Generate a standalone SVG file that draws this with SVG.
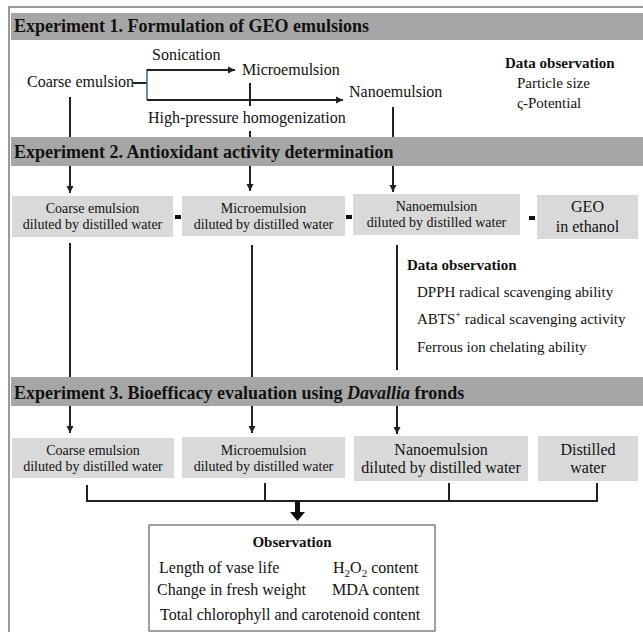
<svg xmlns="http://www.w3.org/2000/svg" width="643" height="632" viewBox="0 0 643 632" font-family="'Liberation Serif', 'Times New Roman', serif">
<defs>
<marker id="ah" markerWidth="8" markerHeight="8" refX="7" refY="4" orient="auto" markerUnits="userSpaceOnUse"><path d="M0,0.5 L7,4 L0,7.5 Z" fill="#222"/></marker>
<style>
text{fill:#111}
.hd{font-size:18px;font-weight:bold}
.bar{fill:#a6a6a6}
.box{fill:#d9d9d9}
.t16{font-size:16px}
.t15{font-size:15px}
.t14{font-size:14px}
.b15{font-size:15px;font-weight:bold}
.ln{stroke:#222;stroke-width:2;fill:none}
.arr{stroke:#222;stroke-width:2;fill:none;marker-end:url(#ah)}
.c{text-anchor:middle}
</style>
</defs>
<rect width="643" height="632" fill="#fff"/>
<path d="M9,632 V7 H643" fill="none" stroke="#999" stroke-width="2"/>

<g id="header1"><rect class="bar" x="11" y="13" width="632" height="27"/><text class="hd" x="14" y="32">Experiment 1. Formulation of GEO emulsions</text></g>
<g id="header2"><rect class="bar" x="11" y="137" width="632" height="29"/><text class="hd" x="14" y="158">Experiment 2. Antioxidant activity determination</text></g>
<g id="header3"><rect class="bar" x="11" y="377" width="632" height="29"/><text class="hd" x="14" y="399">Experiment 3. Bioefficacy evaluation using <tspan font-style="italic">Davallia</tspan> fronds</text></g>

<g id="exp1-coarse"><text class="t16" x="27" y="87">Coarse emulsion</text></g>
<g id="exp1-sonication"><text class="t16" x="152" y="60">Sonication</text></g>
<g id="exp1-micro"><text class="t16" x="242" y="75">Microemulsion</text></g>
<g id="exp1-nano"><text class="t16" x="349" y="97">Nanoemulsion</text></g>
<g id="exp1-hph"><text class="t16" x="148" y="123">High-pressure homogenization</text></g>
<g id="exp1-data"><text class="b15" x="505" y="68">Data observation</text><text class="t15" x="517" y="88">Particle size</text><text class="t15" x="517" y="108">ς-Potential</text></g>

<g id="exp2-coarse"><rect class="box" x="12" y="196" width="161" height="41"/><text class="t14 c" x="92.5" y="213">Coarse emulsion</text><text class="t14 c" x="92.5" y="229">diluted by distilled water</text></g>
<g id="exp2-micro"><rect class="box" x="182" y="196" width="163" height="40"/><text class="t14 c" x="263.5" y="213">Microemulsion</text><text class="t14 c" x="263.5" y="229">diluted by distilled water</text></g>
<g id="exp2-nano"><rect class="box" x="353" y="194" width="167" height="41"/><text class="t14 c" x="436.5" y="211">Nanoemulsion</text><text class="t14 c" x="436.5" y="227">diluted by distilled water</text></g>
<g id="exp2-geo"><rect class="box" x="537" y="195" width="101" height="44"/><text class="t16 c" x="587.5" y="212">GEO</text><text class="t16 c" x="587.5" y="232">in ethanol</text></g>
<g id="exp2-data"><text class="b15" x="407" y="270">Data observation</text><text class="t15" x="417" y="297">DPPH radical scavenging ability</text><text class="t15" x="417" y="324">ABTS<tspan font-size="10" dy="-6">+</tspan><tspan dy="6"> radical scavenging activity</tspan></text><text class="t15" x="417" y="352">Ferrous ion chelating ability</text></g>

<g id="exp3-coarse"><rect class="box" x="12" y="438" width="162" height="40"/><text class="t14 c" x="93" y="455">Coarse emulsion</text><text class="t14 c" x="93" y="471">diluted by distilled water</text></g>
<g id="exp3-micro"><rect class="box" x="182" y="437" width="163" height="41"/><text class="t14 c" x="263.5" y="455">Microemulsion</text><text class="t14 c" x="263.5" y="471">diluted by distilled water</text></g>
<g id="exp3-nano"><rect class="box" x="354" y="436" width="174" height="45"/><text class="t16 c" x="441" y="455">Nanoemulsion</text><text class="t16 c" x="441" y="473">diluted by distilled water</text></g>
<g id="exp3-water"><rect class="box" x="538" y="436" width="100" height="45"/><text class="t16 c" x="588" y="455">Distilled</text><text class="t16 c" x="588" y="473">water</text></g>

<g id="observation"><rect x="149" y="525" width="286" height="106" fill="#fff" stroke="#444" stroke-width="1"/><text class="b15 c" x="292" y="547">Observation</text><text class="t16" x="159" y="573">Length of vase life</text><text class="t16" x="333" y="573">H<tspan font-size="11" dy="4">2</tspan><tspan dy="-4">O</tspan><tspan font-size="11" dy="4">2</tspan><tspan dy="-4"> content</tspan></text><text class="t16" x="157" y="595">Change in fresh weight</text><text class="t16" x="332" y="595">MDA content</text><text class="t16" x="160" y="620">Total chlorophyll and carotenoid content</text></g>

<g id="connectors">
<path class="ln" d="M133,83 H147"/>
<path d="M147,69 V100" stroke="#3a6a96" stroke-width="1.5" fill="none"/>
<path class="arr" d="M147,70 H235"/>
<path class="arr" d="M147,100 H343"/>
<path class="ln" d="M70,97 V137"/>
<path class="ln" d="M250,83 V106 M250,131 V137"/>
<path class="ln" d="M393,107 V137"/>
<path class="arr" d="M70,166 V193"/>
<path class="arr" d="M250,166 V191"/>
<path class="arr" d="M393,166 V192"/>
<rect x="175" y="215" width="6" height="4" fill="#111"/>
<rect x="346" y="215" width="6" height="4" fill="#111"/>
<rect x="529" y="216" width="6" height="4" fill="#111"/>
<path class="ln" d="M70,243 V377"/>
<path class="ln" d="M252,245 V377"/>
<path class="ln" d="M397,245 V370"/>
<path class="arr" d="M70,406 V433"/>
<path class="arr" d="M252,406 V433"/>
<path class="arr" d="M397,406 V434"/>
<path class="ln" d="M87,485 V501 H597 V483 M265,483 V501 M449,483 V501"/>
<path d="M295,501 H300 V512 H305 L297.5,521 L290,512 H295 Z" fill="#111"/>
</g>
</svg>
